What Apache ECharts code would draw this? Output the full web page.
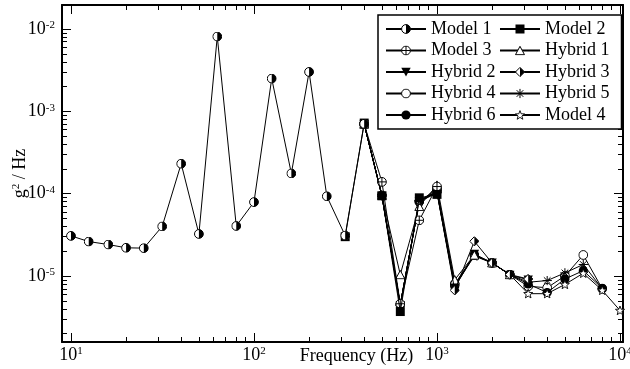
<!DOCTYPE html>
<html><head><meta charset="utf-8">
<script src="https://cdn.jsdelivr.net/npm/echarts@6/dist/echarts.min.js"></script>
<style>html,body{margin:0;padding:0;background:#fff}#c{width:630px;height:369px}</style>
</head><body><div id="c"></div><script>
// ---------- data ----------
const freqLow = [10, 12.5, 16, 20, 25, 31.5, 40, 50, 63, 80, 100, 125, 160, 200, 250, 315, 400];
const model1  = [3.07e-5, 2.62e-5, 2.41e-5, 2.2e-5, 2.18e-5, 4.0e-5, 2.31e-4, 3.24e-5, 8.1e-3, 4.05e-5, 7.9e-5, 2.5e-3, 1.76e-4, 3.01e-3, 9.3e-5, 3.1e-5, 7.05e-4];

const freqHigh = [315, 400, 500, 630, 800, 1000, 1250, 1600, 2000, 2500, 3150, 4000, 5000, 6300, 8000, 10000];
const model2  = [3.0e-5, 7.2e-4, 9.4e-5, 3.7e-6, 8.9e-5, 9.8e-5, null, null, null, null, null, null, null, null, null, null];
const model3  = [null, 7.0e-4, 1.39e-4, 4.6e-6, 4.75e-5, 1.22e-4, null, null, null, null, null, null, null, null, null, null];
const hybrid1 = [null, 7.0e-4, 9.6e-5, 1.04e-5, 7.0e-5, 1.27e-4, 9.0e-6, 1.8e-5, 1.45e-5, 1.04e-5, null, null, null, null, null, null];
const hybrid2 = [null, 7.0e-4, 9.4e-5, 4.4e-6, 8.0e-5, 1.02e-4, 7.2e-6, 1.85e-5, 1.45e-5, 1.03e-5, 9.0e-6, null, null, null, null, null];
const hybrid3 = [null, 7.0e-4, 9.4e-5, 4.4e-6, 8.3e-5, 1.05e-4, 6.7e-6, 2.64e-5, 1.44e-5, 1.04e-5, 9.2e-6, null, null, null, null, null];
const hybrid4 = [null, 7.0e-4, 9.5e-5, 4.5e-6, 8.0e-5, 1.15e-4, 8.0e-6, 1.8e-5, 1.44e-5, 1.04e-5, 7.5e-6, 7.2e-6, 1.0e-5, 1.8e-5, 7.0e-6, null];
const hybrid5 = [null, 7.0e-4, 9.5e-5, 4.5e-6, 8.0e-5, 1.1e-4, 7.8e-6, 1.8e-5, 1.44e-5, 1.04e-5, 8.4e-6, 8.8e-6, 1.09e-5, 1.38e-5, 7.0e-6, null];
const hybrid6 = [null, 7.0e-4, 9.5e-5, 4.5e-6, 8.0e-5, 1.05e-4, 7.5e-6, 1.8e-5, 1.44e-5, 1.04e-5, 8.0e-6, 6.3e-6, 9.2e-6, 1.16e-5, 7.1e-6, null];
const model4  = [null, 7.0e-4, 9.5e-5, 4.5e-6, 8.0e-5, 1.05e-4, 7.5e-6, 1.75e-5, 1.44e-5, 1.04e-5, 6.1e-6, 6.1e-6, 7.9e-6, 1.08e-5, 6.7e-6, 3.82e-6];

const xMajorTicks = [10, 100, 1000, 10000];
const xMinorTicks = [20, 30, 40, 50, 60, 70, 80, 90, 200, 300, 400, 500, 600, 700, 800, 900, 2000, 3000, 4000, 5000, 6000, 7000, 8000, 9000];
const yMajorTicks = [1e-5, 1e-4, 1e-3, 1e-2];
const yMinorTicks = [2e-6, 3e-6, 4e-6, 5e-6, 6e-6, 7e-6, 8e-6, 9e-6, 2e-5, 3e-5, 4e-5, 5e-5, 6e-5, 7e-5, 8e-5, 9e-5, 2e-4, 3e-4, 4e-4, 5e-4, 6e-4, 7e-4, 8e-4, 9e-4, 2e-3, 3e-3, 4e-3, 5e-3, 6e-3, 7e-3, 8e-3, 9e-3];

// ---------- styling ----------
const FONT = "'Liberation Serif','Times New Roman',serif";
const X_MIN = 8.93, X_MAX = 10385, Y_MIN = 1.579e-6, Y_MAX = 0.01956;
const SYM = 10;

function svg(inner) {
  return 'image://data:image/svg+xml;charset=utf-8,' + encodeURIComponent(
    '<svg xmlns="http://www.w3.org/2000/svg" width="' + SYM + '" height="' + SYM + '" viewBox="0 0 10 10">' + inner + '</svg>');
}
function starPts() {
  const p = [];
  for (let i = 0; i < 10; i++) {
    const r = i % 2 === 0 ? 4.8 : 2.0;
    const a = -Math.PI / 2 + i * Math.PI / 5;
    p.push((5 + r * Math.cos(a)).toFixed(2) + ',' + (5.4 + r * Math.sin(a)).toFixed(2));
  }
  return p.join(' ');
}
const symbols = {
  halfCircle: svg('<circle cx="5" cy="5" r="4.4" fill="#fff" stroke="#000" stroke-width="1"/><path d="M5 0.6 A4.4 4.4 0 0 1 5 9.4 Z" fill="#000"/>'),
  square: svg('<rect x="0.5" y="0.5" width="9" height="9" fill="#000"/>'),
  circlePlus: svg('<circle cx="5" cy="5" r="4.4" fill="#fff" stroke="#000" stroke-width="1"/><path d="M5 0.6 V9.4 M0.6 5 H9.4" stroke="#000" stroke-width="1"/>'),
  triUp: svg('<polygon points="5,0.8 9.5,9.2 0.5,9.2" fill="#fff" stroke="#000" stroke-width="1"/>'),
  triDown: svg('<polygon points="0.3,0.8 9.7,0.8 5,9.4" fill="#000"/>'),
  diamondHalf: svg('<polygon points="5,0.4 9.6,5 5,9.6 0.4,5" fill="#fff" stroke="#000" stroke-width="1"/><polygon points="5,0.4 9.6,5 5,9.6" fill="#000"/>'),
  circleOpen: svg('<circle cx="5" cy="5" r="4.4" fill="#fff" stroke="#000" stroke-width="1"/>'),
  asterisk: svg('<path d="M5 0.3 V9.7 M0.3 5 H9.7 M1.7 1.7 L8.3 8.3 M8.3 1.7 L1.7 8.3" stroke="#000" stroke-width="1"/>'),
  circleFilled: svg('<circle cx="5" cy="5" r="4.6" fill="#000"/>'),
  starOpen: svg('<polygon points="' + starPts() + '" fill="#fff" stroke="#000" stroke-width="0.9"/>')
};

function pairs(xs, ys) {
  const out = [];
  for (let i = 0; i < xs.length; i++) if (ys[i] != null) out.push([xs[i], ys[i]]);
  return out;
}
function mkSeries(name, xs, ys, sym, z) {
  return {
    name: name, type: 'line', data: pairs(xs, ys), symbol: sym, symbolSize: SYM,
    showSymbol: true, z: z, animation: false, silent: true,
    lineStyle: { color: '#000', width: 1 }, itemStyle: { color: '#000' },
    emphasis: { disabled: true }
  };
}

const series = [
  mkSeries('Model 1', freqLow, model1, symbols.halfCircle, 20),
  mkSeries('Model 2', freqHigh, model2, symbols.square, 19),
  mkSeries('Model 3', freqHigh, model3, symbols.circlePlus, 18),
  mkSeries('Hybrid 1', freqHigh, hybrid1, symbols.triUp, 16),
  mkSeries('Hybrid 2', freqHigh, hybrid2, symbols.triDown, 15),
  mkSeries('Hybrid 3', freqHigh, hybrid3, symbols.diamondHalf, 17),
  mkSeries('Hybrid 4', freqHigh, hybrid4, symbols.circleOpen, 11),
  mkSeries('Hybrid 5', freqHigh, hybrid5, symbols.asterisk, 13),
  mkSeries('Hybrid 6', freqHigh, hybrid6, symbols.circleFilled, 12),
  mkSeries('Model 4', freqHigh, model4, symbols.starOpen, 14)
];

const rich = {
  b: { fontSize: 18, fontFamily: FONT, color: '#000', lineHeight: 18 },
  s: { fontSize: 11, fontFamily: FONT, color: '#000', verticalAlign: 'top', lineHeight: 10 }
};
function powFmt(v) {
  const e = Math.round(Math.log10(v));
  return '{b|10}{s|' + e + '}';
}
function axis(pos, dim, ticks, len, withLine, withLabel, extra) {
  const a = {
    type: 'log', logBase: 10, gridIndex: 0, position: pos,
    min: dim === 'x' ? X_MIN : Y_MIN, max: dim === 'x' ? X_MAX : Y_MAX,
    axisLine: { show: withLine, onZero: false, lineStyle: { color: '#000', width: 2 } },
    axisTick: { show: true, inside: true, length: len, customValues: ticks, lineStyle: { color: '#000', width: 1 } },
    minorTick: { show: false }, splitLine: { show: false }, minorSplitLine: { show: false },
    axisLabel: withLabel ? { show: true, customValues: ticks, formatter: powFmt, rich: rich, margin: dim === 'x' ? 4 : 7 } : { show: false },
    axisPointer: { show: false }, silent: true
  };
  return Object.assign(a, extra || {});
}

const option = {
  backgroundColor: '#fff',
  animation: false,
  grid: { left: 62, right: 7, top: 5, bottom: 27, containLabel: false, outerBoundsMode: 'none' },
  legend: {
    orient: 'vertical', left: 378, top: 15, height: 108,
    data: ['Model 1', 'Model 3', 'Hybrid 2', 'Hybrid 4', 'Hybrid 6', 'Model 2', 'Hybrid 1', 'Hybrid 3', 'Hybrid 5', 'Model 4'],
    itemWidth: 40, itemHeight: 12.5, itemGap: 3.5,
    padding: [5, 12, 5, 7],
    borderColor: '#000', borderWidth: 1.5, borderRadius: 0, backgroundColor: '#fff',
    selectedMode: false,
    textStyle: { fontSize: 18, fontFamily: FONT, color: '#000' },
    z: 30
  },
  xAxis: [
    axis('bottom', 'x', xMajorTicks, 9, true, true, {
      name: 'Frequency (Hz)', nameLocation: 'middle', nameGap: 5, nameMoveOverlap: false,
      nameTextStyle: { fontSize: 18, fontFamily: FONT, color: '#000', verticalAlign: 'top', padding: [0, 0, 0, 28] }
    }),
    axis('bottom', 'x', xMinorTicks, 5, false, false),
    axis('top', 'x', xMajorTicks, 9, true, false),
    axis('top', 'x', xMinorTicks, 5, false, false)
  ],
  yAxis: [
    axis('left', 'y', yMajorTicks, 9, true, true, {
      name: 'g{s|2} / Hz', nameLocation: 'middle', nameGap: 33, nameRotate: 90, nameMoveOverlap: false,
      nameTextStyle: { fontSize: 18, fontFamily: FONT, color: '#000', rich: rich }
    }),
    axis('left', 'y', yMinorTicks, 5, false, false),
    axis('right', 'y', yMajorTicks, 9, true, false),
    axis('right', 'y', yMinorTicks, 5, false, false)
  ],
  series: series
};
const chart = echarts.init(document.getElementById('c'), null, { renderer: 'canvas' });
chart.setOption(option);
</script></body></html>
